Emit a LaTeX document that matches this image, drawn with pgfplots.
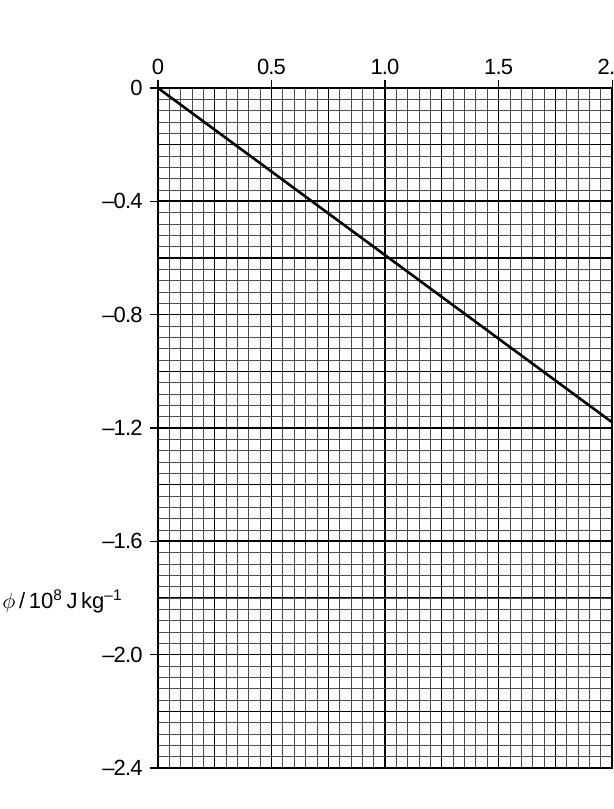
\documentclass[border=0pt]{standalone}
\usepackage{fontspec}
\setmainfont{Liberation Sans}
\newfontfamily\tickfont[LetterSpace=-4]{Liberation Sans}
\usepackage{pgfplots}
\pgfplotsset{compat=1.18}

\begin{document}
\begin{tikzpicture}
\begin{axis}[
    x=113.55pt, y=141.67pt,
    xmin=0, xmax=2, ymin=-2.4, ymax=0,
    clip=false,
    axis line style={black, line width=1pt},
    xtick={0,0.5,1,1.5,2},
    xticklabels={0,0.5,1.0,1.5,2.0},
    xtick pos=right, xticklabel pos=right,
    ytick={-2.4,-2,-1.6,-1.2,-0.8,-0.4,0},
    yticklabels={–2.4,–2.0,–1.6,–1.2,–0.8,–0.4,0},
    ytick pos=left,
    tick align=outside,
    major tick length=4.2pt,
    minor tick length=0pt,
    tick style={black, line width=0.6pt},
    minor x tick num=9,
    minor y tick num=9,
    grid=both,
    major grid style={black, line width=0.85pt},
    minor grid style={black!70, line width=0.4pt},
    extra x ticks={0.25,0.75,1.25,1.75},
    extra y ticks={-0.2,-0.6,-1.0,-1.4,-1.8,-2.2},
    extra x tick labels={},
    extra y tick labels={},
    extra tick style={grid=major, major tick length=0pt,
        major grid style={black, line width=0.55pt}},
    tick label style={font=\tickfont\fontsize{11}{13}\selectfont},
    xticklabel style={yshift=-1pt},
]
% potential phi against distance
\addplot[black, line width=1.3pt, mark=none] coordinates {
    (0,0) (2.0,-1.18)
};

\node[anchor=base east, inner sep=0pt, font=\fontsize{11}{13}\selectfont]
    at (axis cs:-0.154,-1.838)
    {$\phi$\,/\,10\textsuperscript{8}\,J\,kg\textsuperscript{–1}};

% page frame of the reference crop
\coordinate (bbsw) at (axis cs:-0.6957,-2.545);
\coordinate (bbne) at (axis cs:2.0079,0.3106);
\end{axis}
\pgfresetboundingbox
\useasboundingbox (bbsw) rectangle (bbne);
\end{tikzpicture}
\end{document}
